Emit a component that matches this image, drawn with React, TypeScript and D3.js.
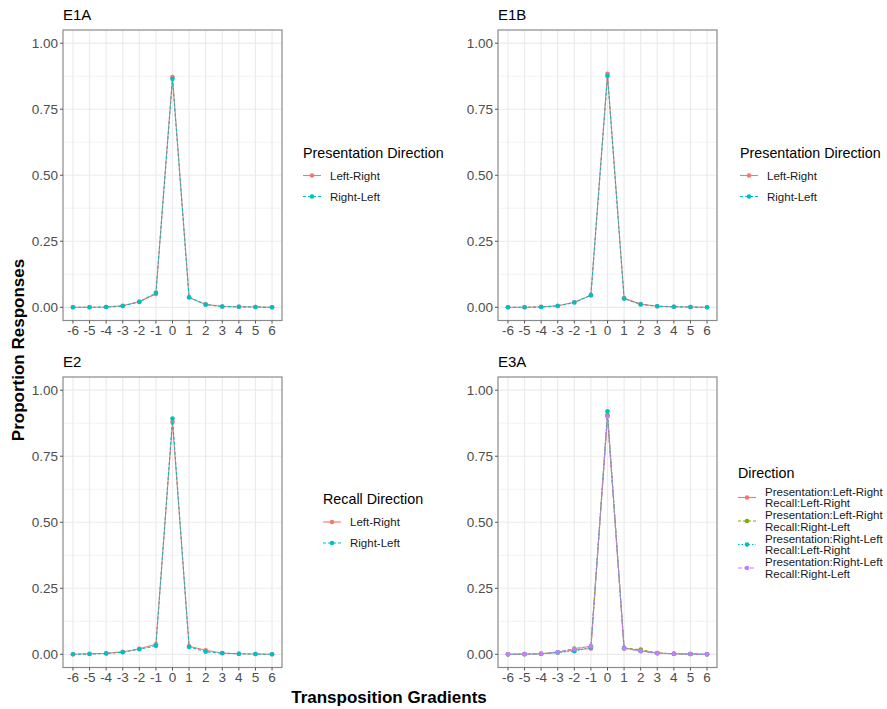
import React from "react";
import * as d3 from "d3";

const gradients = ["-6", "-5", "-4", "-3", "-2", "-1", "0", "1", "2", "3", "4", "5", "6"];
const yTicks = [0, 0.25, 0.5, 0.75, 1];

const e1aLeftRight = [0.0, 0.0, 0.001, 0.006, 0.022, 0.05, 0.872, 0.037, 0.011, 0.003, 0.002, 0.001, 0.0];
const e1aRightLeft = [0.0, 0.0, 0.001, 0.005, 0.02, 0.055, 0.865, 0.038, 0.01, 0.003, 0.002, 0.001, 0.0];
const e1bLeftRight = [0.0, 0.0, 0.002, 0.006, 0.019, 0.046, 0.884, 0.034, 0.012, 0.004, 0.002, 0.001, 0.0];
const e1bRightLeft = [0.0, 0.0, 0.001, 0.005, 0.018, 0.046, 0.876, 0.033, 0.011, 0.004, 0.002, 0.001, 0.0];
const e2LeftRight = [0.0, 0.002, 0.004, 0.009, 0.021, 0.038, 0.88, 0.03, 0.015, 0.005, 0.002, 0.001, 0.0];
const e2RightLeft = [0.0, 0.001, 0.003, 0.008, 0.019, 0.032, 0.893, 0.028, 0.01, 0.004, 0.002, 0.001, 0.0];
const e3aPLRrLR = [0.0, 0.0, 0.002, 0.007, 0.016, 0.022, 0.905, 0.025, 0.013, 0.005, 0.002, 0.001, 0.0];
const e3aPLRrRL = [0.0, 0.001, 0.002, 0.008, 0.022, 0.03, 0.905, 0.022, 0.018, 0.005, 0.002, 0.001, 0.0];
const e3aPRLrLR = [0.0, 0.0, 0.002, 0.007, 0.012, 0.026, 0.92, 0.024, 0.012, 0.004, 0.002, 0.001, 0.0];
const e3aPRLrRL = [0.0, 0.001, 0.002, 0.008, 0.02, 0.03, 0.9, 0.022, 0.013, 0.004, 0.002, 0.001, 0.0];

const twoColors = ["#F8766D", "#00BFC4"];
const fourColors = ["#F8766D", "#7CAE00", "#00BFC4", "#C77CFF"];
const dashes = ["none", "3,2", "1.5,2", "4,2"];

const font = "'Liberation Sans', Arial, Helvetica, sans-serif";

type Panel = {
  title: string;
  left: number;
  top: number;
  legendTitle: string;
  legendX: number;
  legendTitleY: number;
  itemYs: number[];
  labels: string[][];
  series: number[][];
  colors: string[];
};

const panels: Panel[] = [
  {
    title: "E1A", left: 63, top: 30, legendTitle: "Presentation Direction",
    legendX: 303, legendTitleY: 153, itemYs: [175.5, 196.5],
    labels: [["Left-Right"], ["Right-Left"]], series: [e1aLeftRight, e1aRightLeft], colors: twoColors,
  },
  {
    title: "E1B", left: 498, top: 30, legendTitle: "Presentation Direction",
    legendX: 740, legendTitleY: 153, itemYs: [175.5, 196.5],
    labels: [["Left-Right"], ["Right-Left"]], series: [e1bLeftRight, e1bRightLeft], colors: twoColors,
  },
  {
    title: "E2", left: 63, top: 377, legendTitle: "Recall Direction",
    legendX: 323, legendTitleY: 499, itemYs: [522, 543],
    labels: [["Left-Right"], ["Right-Left"]], series: [e2LeftRight, e2RightLeft], colors: twoColors,
  },
  {
    title: "E3A", left: 498, top: 377, legendTitle: "Direction",
    legendX: 738, legendTitleY: 473, itemYs: [497.5, 521, 544.5, 568],
    labels: [
      ["Presentation:Left-Right", "Recall:Left-Right"],
      ["Presentation:Left-Right", "Recall:Right-Left"],
      ["Presentation:Right-Left", "Recall:Left-Right"],
      ["Presentation:Right-Left", "Recall:Right-Left"],
    ],
    series: [e3aPLRrLR, e3aPLRrRL, e3aPRLrLR, e3aPRLrRL], colors: fourColors,
  },
];

const PW = 219;
const PH = 290.5;

function PanelView({ p }: { p: Panel }) {
  const x = d3.scalePoint<string>().domain(gradients).range([p.left, p.left + PW]).padding(0.6);
  const y = d3.scaleLinear().domain([-0.05, 1.05]).range([p.top + PH, p.top]);
  const minor = [0.125, 0.375, 0.625, 0.875];
  const line = d3.line<number>().x((_, i) => x(gradients[i]) as number).y((v) => y(v));
  return (
    <g>
      <text x={p.left} y={p.top - 10} fontSize={15} fill="#000" fontFamily={font}>{p.title}</text>
      <rect x={p.left} y={p.top} width={PW} height={PH} fill="#fff" />
      {minor.map((m) => (
        <line key={"mn" + m} x1={p.left} x2={p.left + PW} y1={y(m)} y2={y(m)} stroke="#ebebeb" strokeWidth={0.6} />
      ))}
      {yTicks.map((t) => (
        <line key={"my" + t} x1={p.left} x2={p.left + PW} y1={y(t)} y2={y(t)} stroke="#ebebeb" strokeWidth={1.2} />
      ))}
      {gradients.map((g) => (
        <line key={"mx" + g} x1={x(g)} x2={x(g)} y1={p.top} y2={p.top + PH} stroke="#ebebeb" strokeWidth={1.2} />
      ))}
      {p.series.map((s, si) => (
        <g key={"s" + si}>
          <path d={line(s) || ""} fill="none" stroke={p.colors[si]} strokeWidth={1.1} strokeDasharray={dashes[si]} />
          {s.map((v, i) => (
            <circle key={i} cx={x(gradients[i])} cy={y(v)} r={2.3} fill={p.colors[si]} />
          ))}
        </g>
      ))}
      <rect x={p.left} y={p.top} width={PW} height={PH} fill="none" stroke="#8a8a8a" strokeWidth={1.2} />
      {yTicks.map((t) => (
        <g key={"yt" + t}>
          <line x1={p.left - 3} x2={p.left} y1={y(t)} y2={y(t)} stroke="#555" strokeWidth={1} />
          <text x={p.left - 5} y={y(t)} dy="0.35em" textAnchor="end" fontSize={13.5} fill="#4d4d4d" fontFamily={font}>
            {d3.format(".2f")(t)}
          </text>
        </g>
      ))}
      {gradients.map((g) => (
        <g key={"xt" + g}>
          <line x1={x(g)} x2={x(g)} y1={p.top + PH} y2={p.top + PH + 3} stroke="#555" strokeWidth={1} />
          <text x={x(g)} y={p.top + PH + 14} textAnchor="middle" fontSize={13.5} fill="#4d4d4d" fontFamily={font}>
            {g}
          </text>
        </g>
      ))}
      <text x={p.legendX} y={p.legendTitleY} dy="0.35em" fontSize={14.3} fill="#000" fontFamily={font}>
        {p.legendTitle}
      </text>
      {p.labels.map((lab, li) => {
        const cy = p.itemYs[li];
        return (
          <g key={"lg" + li}>
            <line x1={p.legendX} x2={p.legendX + 18} y1={cy} y2={cy} stroke={p.colors[li]} strokeWidth={1.1} strokeDasharray={dashes[li]} />
            <circle cx={p.legendX + 9} cy={cy} r={2.3} fill={p.colors[li]} />
            {lab.length === 1 ? (
              <text x={p.legendX + 27} y={cy} dy="0.35em" fontSize={11.5} fill="#1a1a1a" fontFamily={font}>{lab[0]}</text>
            ) : (
              <text x={p.legendX + 27} y={cy} fontSize={11.5} fill="#1a1a1a" fontFamily={font}>
                <tspan x={p.legendX + 27} dy="-1.6">{lab[0]}</tspan>
                <tspan x={p.legendX + 27} dy="11.2">{lab[1]}</tspan>
              </text>
            )}
          </g>
        );
      })}
    </g>
  );
}

export default function App() {
  return (
    <svg
      width={887}
      height={709}
      style={{ display: "block", position: "fixed", left: 0, top: 0 }}
      viewBox="0 0 887 709"
    >
      <rect x={0} y={0} width={887} height={709} fill="#fff" />
      {panels.map((p) => (
        <PanelView key={p.title} p={p} />
      ))}
      <text
        transform="translate(18,350) rotate(-90)"
        textAnchor="middle"
        dy="0.35em"
        fontSize={17}
        fontWeight="bold"
        fill="#000"
        fontFamily={font}
      >
        Proportion Responses
      </text>
      <text x={389} y={697} dy="0.35em" textAnchor="middle" fontSize={17} fontWeight="bold" fill="#000" fontFamily={font}>
        Transposition Gradients
      </text>
    </svg>
  );
}
